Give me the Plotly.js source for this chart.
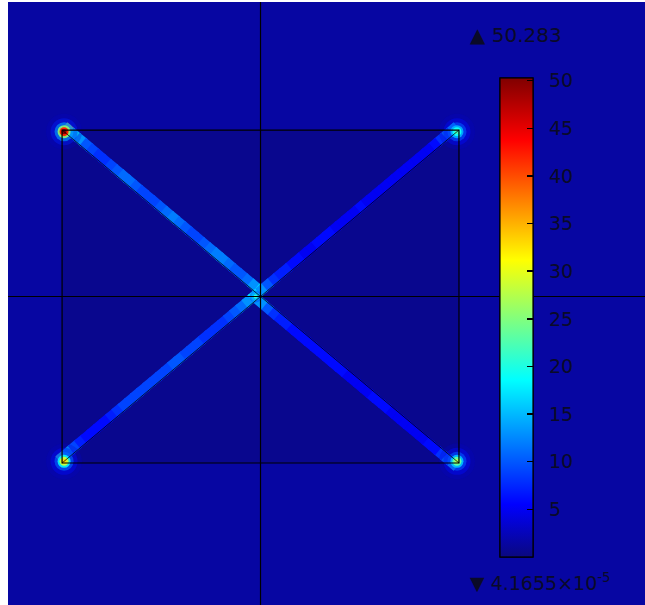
<!DOCTYPE html>
<html>
<head>
<meta charset="utf-8">
<script src="https://cdn.plot.ly/plotly-3.0.1.min.js"></script>
<style>html,body{margin:0;padding:0;background:#fff}#chart{width:645px;height:605px}</style>
</head>
<body>
<div id="chart"></div>
<script>
// ---- data ----
var zMin = 4.1655e-5;
var zMax = 50.283;
var colorTicks = [5, 10, 15, 20, 25, 30, 35, 40, 45, 50];

// domain outline (rectangle) and background levels
var rectX = [-1.2, 1.2];
var rectY = [-1, 1];
var bgEdgesX = [-1.527, -1.2, 1.2, 2.325];
var bgEdgesY = [-1.853, -1, 1, 1.769];
var bgOutside = 1.5;
var bgInside = 0.6;

// arm corners (corner -> centre), values read along each arm from corner to centre
var armCornerX = [-1.2, 1.2, -1.2, 1.2];
var armCornerY = [1, 1, -1, -1];
var armTL = [30,18,13,10,9,8,8,9,10,11,11,10,9,9,9,10,11,12,11,10,9,9,10,11,12,12,11,10,10,11,13,17];
var armTR = [18,11,8,6,5,5,5,5,5,5,5,5,5,5,5,6,5,5,5,5,6,6,6,5,5,6,6,7,7,8,10,13];
var armBL = [24,14,9,7,6,6,6,6,7,8,9,9,9,9,9,9,9,9,10,10,9,9,9,8,8,8,8,9,10,11,13,17];
var armBR = [20,11,8,6,6,5,5,5,5,5,5,6,6,6,5,5,5,5,6,6,6,6,6,6,6,6,6,7,7,8,10,13];

// corner hot spots: halo levels (outer -> peak)
var hotTL = [3, 7, 14, 26, 42, 50];
var hotTR = [3, 6, 10, 15, 19, 22];
var hotBL = [3, 6, 11, 19, 28, 33];
var hotBR = [3, 6, 10, 16, 23, 27];
var hotCentre = [9, 15, 21];

var minLabel = '\u25BC 4.1655\u00D710<sup>-5</sup>';
var maxLabel = '\u25B2 50.283';

// ---- build ----
var scale = [
  [0, 'rgb(10,8,128)'],
  [0.11, 'rgb(0,0,255)'],
  [0.37, 'rgb(0,255,255)'],
  [0.62, 'rgb(255,255,0)'],
  [0.87, 'rgb(255,0,0)'],
  [1, 'rgb(128,0,0)']
];

var traces = [];
traces.push({
  type: 'heatmap',
  x: bgEdgesX, y: bgEdgesY,
  z: [[bgOutside, bgOutside, bgOutside],[bgOutside, bgInside, bgOutside],[bgOutside, bgOutside, bgOutside]],
  coloraxis: 'coloraxis', hoverinfo: 'skip'
});

var arms = [armTL, armTR, armBL, armBR];
var offX = [0.017, -0.017, -0.017, -0.017];
var offY = [0.02, 0.02, 0.02, -0.02];
var armAngle = [40, -40, -40, 40];
arms.forEach(function (vals, k) {
  var xs = [], ys = [];
  var n = vals.length;
  for (var i = 0; i < n; i++) {
    var f = (i + 0.5) / n;
    xs.push(armCornerX[k] * (1 - f) + offX[k]);
    ys.push(armCornerY[k] * (1 - f) + offY[k]);
  }
  traces.push({
    type: 'scatter', mode: 'markers', x: xs, y: ys,
    marker: {color: vals, coloraxis: 'coloraxis', size: 10, symbol: 'square', angle: armAngle[k], line: {width: 0}},
    hoverinfo: 'skip'
  });
});

var hots = [hotTL, hotTR, hotBL, hotBR];
var hotSizes = [36, 27, 19, 13, 9, 5];
var hotOpac = [0.25, 0.4, 0.6, 0.85, 1, 1];
hots.forEach(function (vals, k) {
  traces.push({
    type: 'scatter', mode: 'markers',
    x: vals.map(function () { return armCornerX[k] * 0.99; }),
    y: vals.map(function () { return armCornerY[k] * 0.99; }),
    marker: {color: vals, coloraxis: 'coloraxis', size: hotSizes, opacity: hotOpac, line: {width: 0}},
    hoverinfo: 'skip'
  });
});
traces.push({
  type: 'scatter', mode: 'markers',
  x: hotCentre.map(function () { return -0.03; }),
  y: hotCentre.map(function () { return 0.0; }),
  marker: {color: hotCentre, coloraxis: 'coloraxis2', size: [12, 8, 4], opacity: [0.5, 0.8, 1], line: {width: 0}},
  hoverinfo: 'skip'
});

var shapes = [
  {type: 'rect', xref: 'x', yref: 'y', x0: rectX[0], x1: rectX[1], y0: rectY[0], y1: rectY[1],
   line: {color: 'black', width: 1.2}, layer: 'above'},
  {type: 'line', xref: 'x', yref: 'paper', x0: 0, x1: 0, y0: 0, y1: 1, line: {color: 'black', width: 1.2}, layer: 'above'},
  {type: 'line', xref: 'paper', yref: 'y', x0: 0, x1: 1, y0: 0, y1: 0, line: {color: 'black', width: 1.2}, layer: 'above'}
];
for (var k = 0; k < 4; k++) {
  shapes.push({type: 'line', xref: 'x', yref: 'y', x0: armCornerX[k], y0: armCornerY[k], x1: 0, y1: 0,
    line: {color: 'rgba(0,0,0,0.75)', width: 1}, layer: 'above'});
}

var cbBase = {
  x: 0.772, xanchor: 'left', xpad: 0,
  y: 0.0796, yanchor: 'bottom', ypad: 0,
  lenmode: 'pixels', len: 479, thicknessmode: 'pixels', thickness: 33,
  outlinewidth: 1.2, outlinecolor: 'black',
  tickvals: colorTicks, ticktext: colorTicks.map(String),
  tickfont: {family: 'DejaVu Sans, sans-serif', size: 19, color: 'rgb(10,10,40)'},
  bgcolor: 'rgba(0,0,0,0)', borderwidth: 0
};
var cbLabels = Object.assign({}, cbBase, {ticks: 'outside', ticklen: 12, tickcolor: 'rgba(0,0,0,0)'});
var cbTicks = Object.assign({}, cbBase, {ticks: 'inside', ticklen: 6, tickwidth: 1.5, tickcolor: 'black', showticklabels: false});

var layout = {
  width: 645, height: 605,
  margin: {l: 8, r: 0, t: 2, b: 0, pad: 0},
  paper_bgcolor: '#ffffff', plot_bgcolor: 'rgb(14,14,160)',
  showlegend: false,
  font: {family: 'DejaVu Sans, sans-serif', color: 'rgb(10,10,40)', size: 19},
  xaxis: {range: [bgEdgesX[0], bgEdgesX[3]], visible: false, fixedrange: true},
  yaxis: {range: [bgEdgesY[0], bgEdgesY[3]], visible: false, fixedrange: true},
  coloraxis: {colorscale: scale, cmin: zMin, cmax: zMax, colorbar: cbLabels},
  coloraxis2: {colorscale: scale, cmin: zMin, cmax: zMax, colorbar: cbTicks},
  shapes: shapes,
  annotations: [
    {xref: 'paper', yref: 'paper', x: 0.722, y: 0.945, xanchor: 'left', yanchor: 'middle',
     text: maxLabel, showarrow: false, font: {size: 20, color: 'rgb(10,10,40)'}},
    {xref: 'paper', yref: 'paper', x: 0.722, y: 0.038, xanchor: 'left', yanchor: 'middle',
     text: minLabel, showarrow: false, font: {size: 19, color: 'rgb(10,10,40)'}}
  ]
};

Plotly.newPlot('chart', traces, layout, {displayModeBar: false, staticPlot: true});
</script>
</body>
</html>
